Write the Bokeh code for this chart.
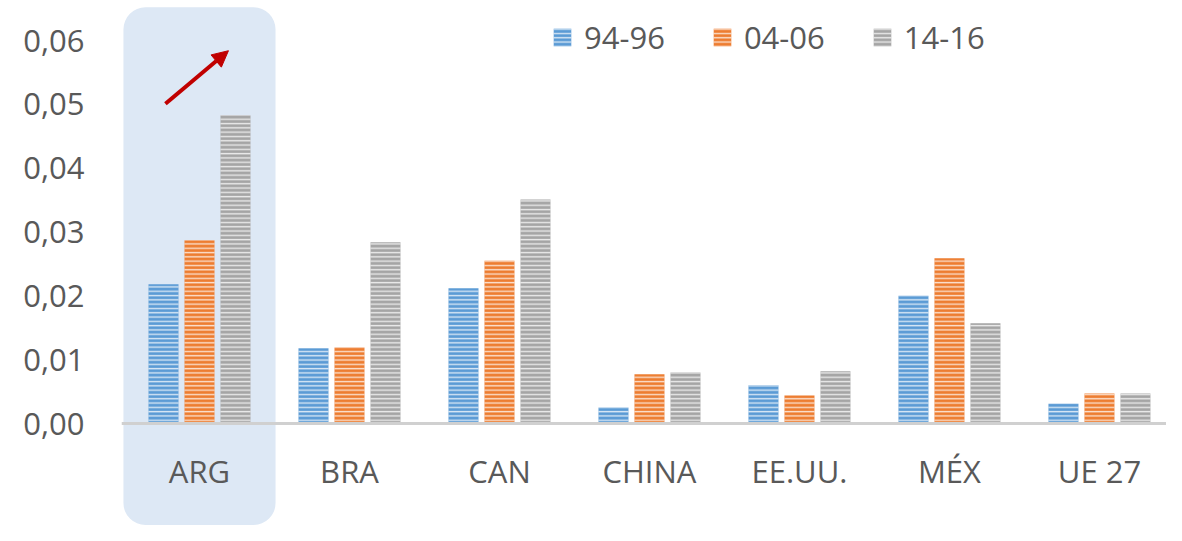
from bokeh.plotting import figure
from bokeh.models import (ColumnDataSource, Range1d, FixedTicker, CustomJSTickFormatter,
                          BoxAnnotation, Span, Arrow, NormalHead, Legend, LegendItem)
from bokeh.core.properties import value
from bokeh.transform import dodge
from bokeh.embed import file_html
from bokeh.resources import INLINE

categories = ["ARG", "BRA", "CAN", "CHINA", "EE.UU.", "MÉX", "UE 27"]
series_names = ["94-96", "04-06", "14-16"]
s_94_96 = [0.0218, 0.0118, 0.0212, 0.0025, 0.0060, 0.0200, 0.0031]
s_04_06 = [0.0287, 0.0119, 0.0255, 0.0077, 0.0044, 0.0259, 0.0047]
s_14_16 = [0.0483, 0.0284, 0.0351, 0.0080, 0.0082, 0.0157, 0.0047]
y_ticks = [0.0, 0.01, 0.02, 0.03, 0.04, 0.05, 0.06]

colors = ["#5b9bd5", "#ed7d31", "#a5a5a5"]
FONT = "Open Sans"
TXT = "#595959"
FS = "31px"

src = ColumnDataSource(dict(x=list(range(len(categories))), cat=categories,
                            a=s_94_96, b=s_04_06, c=s_14_16))

p = figure(width=1166, height=525, output_backend="svg", toolbar_location=None,
           x_range=Range1d(-0.52, 6.447), y_range=Range1d(-0.01598, 0.06627),
           min_border_left=121, min_border_right=0, min_border_top=0, min_border_bottom=0,
           outline_line_color=None)
p.xaxis.visible = False
p.xgrid.visible = False
p.ygrid.visible = False

ax = p.yaxis[0]
ax.ticker = FixedTicker(ticks=y_ticks)
ax.formatter = CustomJSTickFormatter(code="return tick.toFixed(2).replace('.', ',');")
ax.axis_line_color = None
ax.major_tick_line_color = None
ax.minor_tick_line_color = None
ax.major_label_standoff = 31
ax.major_label_text_font = FONT
ax.major_label_text_font_size = FS
ax.major_label_text_color = TXT

hl = BoxAnnotation(left=-0.507, right=0.507, top=0.0652, bottom=-0.0159,
                   fill_color="#dde8f5", fill_alpha=1, line_color=None,
                   border_radius=22, level="underlay")
p.add_layout(hl)

base = Span(location=0, dimension="width", line_color="#d0d0d0", line_width=3)
p.add_layout(base)

renderers = []
for col, off, color in zip(["a", "b", "c"], [-0.24, 0.0, 0.24], colors):
    r = p.vbar(x=dodge("x", off, range=p.x_range), top=col, bottom=0, width=0.2,
               source=src, fill_color=color, line_color=None,
               hatch_pattern="horizontal_line", hatch_color="white",
               hatch_alpha=0.75, hatch_scale=4.3, hatch_weight=1.4)
    renderers.append(r)

p.text(x="x", y=-0.0074, text="cat", source=src, text_align="center",
       text_baseline="middle", text_font=value(FONT), text_font_size=FS,
       text_color=TXT)

arrow = Arrow(x_start=-0.227, y_start=0.0501, x_end=0.193, y_end=0.0584,
              line_color="#c00000", line_width=4,
              end=NormalHead(size=16, fill_color="#c00000", line_color="#c00000"))
p.add_layout(arrow)

legend = Legend(items=[LegendItem(label=n, renderers=[r]) for n, r in zip(series_names, renderers)],
                orientation="horizontal", location=(430, 467),
                glyph_width=22, glyph_height=22, label_standoff=11, spacing=46,
                padding=0, margin=0, border_line_color=None, background_fill_alpha=0,
                label_text_font=FONT, label_text_font_size=FS, label_text_color=TXT)
p.add_layout(legend)

open("out.html", "w").write(file_html(p, INLINE))
